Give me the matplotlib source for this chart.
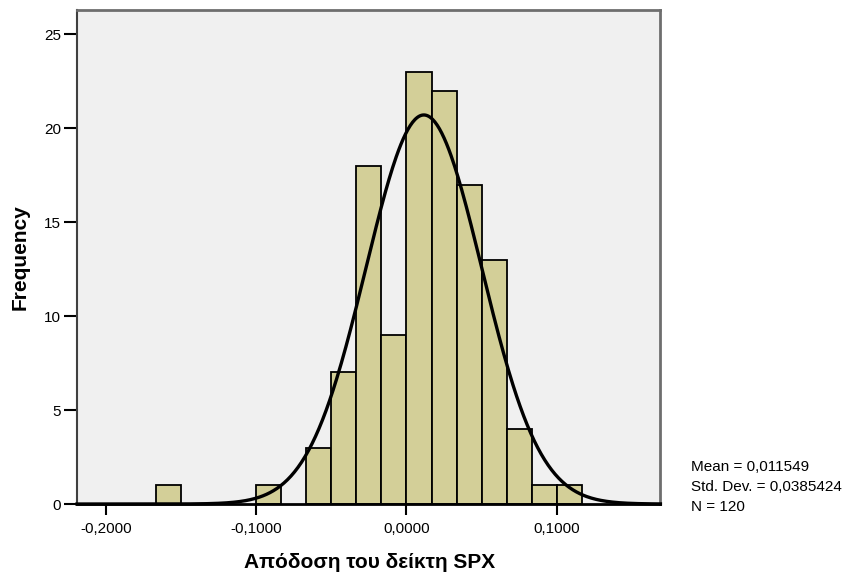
import numpy as np
import matplotlib.pyplot as plt

plt.rcParams['font.family'] = ['Liberation Sans', 'DejaVu Sans']

# histogram bins (width 1/60, left edges in bin units) and counts
bin_left = [-10, -6, -4, -3, -2, -1, 0, 1, 2, 3, 4, 5, 6]
counts = [1, 1, 3, 7, 18, 9, 23, 22, 17, 13, 4, 1, 1]
bin_width = 1.0 / 60

mean = 0.011549
sd = 0.0385424
n = 120

xticks = [-0.2, -0.1, 0.0, 0.1]
xtick_labels = ['-0,2000', '-0,1000', '0,0000', '0,1000']
yticks = [0, 5, 10, 15, 20, 25]

fig = plt.figure(figsize=(8.48, 5.79), dpi=100)
ax = fig.add_axes([0.0908, 0.1295, 0.688, 0.853])
ax.set_facecolor('#F0F0F0')

lefts = np.array(bin_left) * bin_width
ax.bar(lefts, counts, width=bin_width, align='edge', color='#D3CF98',
       edgecolor='black', linewidth=1.3, zorder=2)

xmin, xmax = -0.2193, 0.169
xs = np.linspace(xmin, xmax, 500)
ys = n * bin_width * np.exp(-0.5 * ((xs - mean) / sd) ** 2) / (sd * np.sqrt(2 * np.pi))
ax.plot(xs, ys, color='black', linewidth=2.4, zorder=3, clip_on=False)

ax.set_xlim(xmin, xmax)
ax.set_ylim(0, 26.28)
ax.set_xticks(xticks)
ax.set_xticklabels(xtick_labels)
ax.set_yticks(yticks)
ax.tick_params(axis='both', direction='out', width=1.5, labelsize=11,
               color='black')
ax.tick_params(axis='y', length=9.5, pad=2)
ax.tick_params(axis='x', length=8, pad=5)

for side in ['top', 'right']:
    ax.spines[side].set_color('#6E6E6E')
    ax.spines[side].set_linewidth(2)
ax.spines['left'].set_color('#404040')
ax.spines['left'].set_linewidth(1.5)
ax.spines['bottom'].set_color('black')
ax.spines['bottom'].set_linewidth(2)

ax.set_xlabel('Απόδοση του δείκτη SPX', fontsize=15, fontweight='bold', va='center')
ax.set_ylabel('Frequency', fontsize=15, fontweight='bold', va='center')
ax.xaxis.set_label_coords(0.502, -0.119)
ax.yaxis.set_label_coords(-0.0977, 0.5)

fig.text(0.815, 0.159, 'Mean = 0,011549\nStd. Dev. = 0,0385424\nN = 120',
         fontsize=11, va='center', ha='left', linespacing=1.55)

fig.savefig('out.png', dpi=100)
